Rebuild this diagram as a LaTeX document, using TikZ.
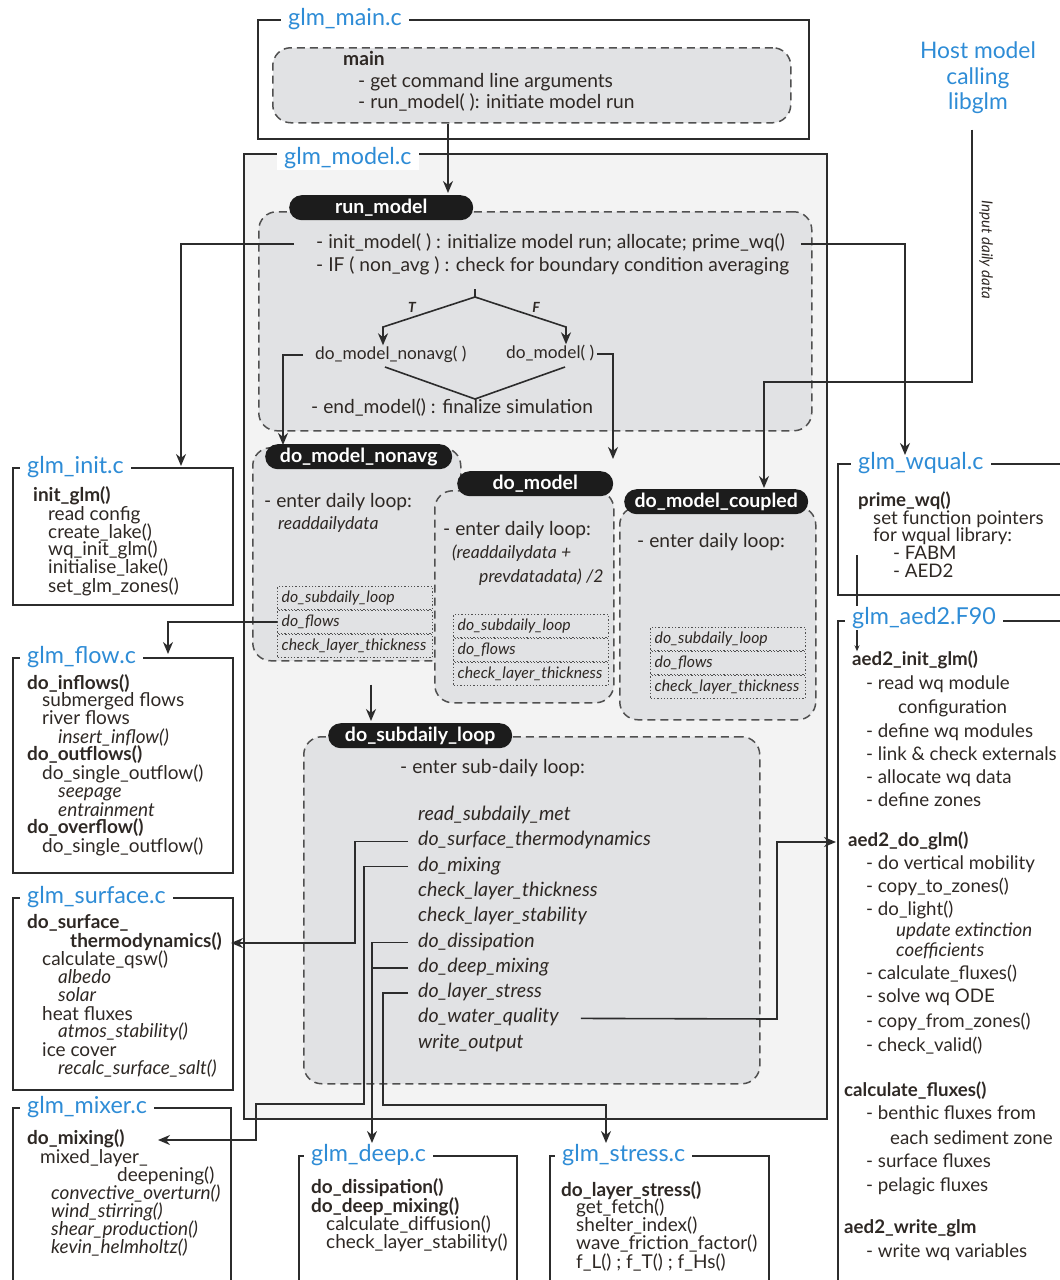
\documentclass[tikz,border=0pt]{standalone}
\usepackage{fontspec}
\setmainfont{Lato}
\usepackage{tikz}
\usetikzlibrary{arrows.meta}
\usetikzlibrary{positioning}

\definecolor{TitleBlue}{HTML}{2E8CD6}
\definecolor{AreaGray}{HTML}{E1E2E4}
\definecolor{ModelGray}{HTML}{F3F3F3}
\definecolor{LineDark}{HTML}{2C2C2C}
\definecolor{TextDark}{HTML}{2E2824}
\definecolor{DashGray}{HTML}{505050}
\definecolor{PillBlack}{HTML}{1C1C1C}

\newcommand{\BodyFont}{\fontsize{19}{18}\selectfont}
\newcommand{\LoopFont}{\fontsize{19.2}{22}\selectfont}
\newcommand{\ListFont}{\itshape\fontsize{19.6}{22}\selectfont}
\newcommand{\AedFont}{\fontsize{18.7}{22}\selectfont}
\newcommand{\DotFont}{\itshape\fontsize{15.8}{18}\selectfont}
\newcommand{\TitleFont}{\fontsize{23.3}{26}\selectfont}

\begin{document}
\begin{tikzpicture}[
x=1pt, y=-1pt,
FileBox/.style={draw=LineDark, line width=1.8pt},
FileTitle/.style={anchor=west, fill=white, text=TitleBlue, font=\TitleFont, inner xsep=7pt, inner ysep=1pt},
LoopArea/.style={anchor=north west, fill=AreaGray, draw=DashGray, line width=1.5pt, dash pattern=on 8pt off 5pt, rounded corners=18pt},
Pill/.style={anchor=north west, fill=PillBlack, text=white, font=\bfseries\fontsize{19.5}{22}\selectfont, rounded corners=12.5pt, minimum height=25pt, inner sep=0pt},
DotBox/.style={anchor=north west, draw=DashGray, line width=1.3pt, dotted, text width=147pt, inner xsep=4pt, minimum height=22.5pt, align=left, font=\DotFont, text=TextDark},
Ln/.style={anchor=west, inner sep=0pt, text height=14pt, text depth=5pt, text=TextDark, font=\BodyFont},
Line/.style={draw=LineDark, line width=1.6pt},
Link/.style={Line, -{Stealth[length=12pt, width=10pt]}},
]
\useasboundingbox (0,0) rectangle (1060,1280);
\clip (0,0) rectangle (1060,1280);

% glm_main.c
\node[FileBox, anchor=north west, minimum width=551pt, minimum height=119pt] (mainbox) at (257,19) {};
\node[FileTitle] (maintitle) at (281,19) {glm\_main.c};
\node[LoopArea, minimum width=518pt, minimum height=75pt] (mainarea) at (272,47) {};
\node[Ln, font=\bfseries\LoopFont] (mainname) at (343,61) {main};
\node[Ln, font=\LoopFont] (mainargs) at (358,83) {- get command line arguments};
\node[Ln, font=\LoopFont] (mainrun) at (358,104) {- run\_model( ): initiate model run};

% host model
\node[text=TitleBlue, font=\fontsize{22.8}{25.5}\selectfont, align=center] (host) at (978,78) {Host model\\calling\\libglm};
\node[rotate=-90, text=TextDark, font=\itshape\fontsize{15}{17}\selectfont] (inputlabel) at (986,250) {Input daily data};

% glm_model.c
\node[FileBox, fill=ModelGray, anchor=north west, minimum width=583pt, minimum height=965pt] (modelbox) at (243,153) {};
\node[FileTitle] (modeltitle) at (277,158) {glm\_model.c};

% run_model
\node[LoopArea, minimum width=553pt, minimum height=219pt] (runarea) at (258,211) {};
\node[Pill, minimum width=184pt] (runpill) at (289,195) {run\_model};
\node[Ln, font=\LoopFont] (initmodel) at (316,244) {- init\_model( ) : initialize model run; allocate; prime\_wq()};
\node[Ln, font=\LoopFont] (ifavg) at (316,267) {- IF ( non\_avg ) : check for boundary condition averaging};
\node[Ln, font=\fontsize{17.3}{20}\selectfont] (callnonavg) at (315,355) {do\_model\_nonavg( )};
\node[Ln, font=\fontsize{17.3}{20}\selectfont] (callmodel) at (506,354) {do\_model( )};
\node[Ln, font=\LoopFont] (endmodel) at (311,409) {- end\_model() : finalize simulation};

% T / F branches
\coordinate (Fork) at (475,297);
\draw[Line] (Fork) -- ++(0,-8);
\draw[Link] (Fork) -- ++(-92,30) coordinate (Tb) -- (Tb |- callnonavg.north);
\draw[Link] (Fork) -- ++(91,30) coordinate (Fb) -- (Fb |- callmodel.north);
\node[text=TextDark, font=\bfseries\itshape\fontsize{14}{16}\selectfont] (Tlabel) at (412,307) {T};
\node[text=TextDark, font=\bfseries\itshape\fontsize{14}{16}\selectfont] (Flabel) at (536,307) {F};
\draw[Line] (385,367) -- (475,399) -- (565,367);

% daily loops
\node[LoopArea, minimum width=208pt, minimum height=213pt] (nonavgarea) at (252,447) {};
\node[Pill, minimum width=187pt] (nonavgpill) at (265,444) {do\_model\_nonavg};
\node[Ln, font=\LoopFont] (nonavgloop) at (264,503) {- enter daily loop:};
\node[Ln, font=\itshape\fontsize{17.6}{20}\selectfont] (nonavgread) at (278,525) {readdailydata};

\node[LoopArea, minimum width=179pt, minimum height=212pt] (modelarea) at (434,490) {};
\node[Pill, minimum width=156pt] (modelpill) at (457,471) {do\_model};
\node[Ln, font=\LoopFont] (modelloop) at (443,531) {- enter daily loop:};
\node[Ln, font=\itshape\fontsize{17.6}{20}\selectfont] (modelread) at (452,554) {(readdailydata +};
\node[Ln, font=\itshape\fontsize{17.6}{20}\selectfont] (modelprev) at (479,578) {prevdatadata) /2};

\node[LoopArea, minimum width=196pt, minimum height=213pt] (coupledarea) at (619,506) {};
\node[Pill, minimum width=184pt] (coupledpill) at (624,489) {do\_model\_coupled};
\node[Ln, font=\LoopFont] (coupledloop) at (637,543) {- enter daily loop:};

\foreach \bx/\by/\nm in {277/586/na, 453/614/dm, 650/627/cp}
  \foreach \txt/\part [count=\j from 0] in {do\_subdaily\_loop/sub, do\_flows/flow, check\_layer\_thickness/chk}
    \node[DotBox] (\nm\part) at (\bx,\by+24*\j) {\txt};

% sub-daily loop
\node[LoopArea, minimum width=456pt, minimum height=347pt] (subarea) at (303,736) {};
\node[Pill, minimum width=184pt] (subpill) at (328,723) {do\_subdaily\_loop};
\node[Ln, font=\LoopFont] (subloop) at (400,769) {- enter sub-daily loop:};
\foreach \nm/\txt [count=\i from 0] in {met/read\_subdaily\_met, surf/do\_surface\_thermodynamics, mix/do\_mixing, thick/check\_layer\_thickness, stab/check\_layer\_stability, diss/do\_dissipation, deep/do\_deep\_mixing, stress/do\_layer\_stress, wq/do\_water\_quality, out/write\_output}
  \node[Ln, font=\ListFont] (\nm) at (418,816+25.3*\i) {\txt};

% glm_init.c
\node[FileBox, anchor=north west, minimum width=220pt, minimum height=137pt] (initbox) at (12,467) {};
\node[FileTitle] (inittitle) at (20,467) {glm\_init.c};
\foreach \x/\y/\t [count=\i] in {33/497/{\bfseries init\_glm()}, 48/516/read config, 48/534/create\_lake(), 48/551/wq\_init\_glm(), 48/569/initialise\_lake(), 48/588/set\_glm\_zones()}
  \node[Ln] (init\i) at (\x,\y) {\t};

% glm_flow.c
\node[FileBox, anchor=north west, minimum width=220pt, minimum height=215pt] (flowbox) at (12,657) {};
\node[FileTitle] (flowtitle) at (20,657) {glm\_flow.c};
\foreach \x/\y/\t [count=\i] in {27/685/{\bfseries do\_inflows()}, 42/702/submerged flows, 42/720/river flows, 58/739/{\itshape insert\_inflow()}, 27/756/{\bfseries do\_outflows()}, 42/775/do\_single\_outflow(), 58/793/{\itshape seepage}, 58/812/{\itshape entrainment}, 27/829/{\bfseries do\_overflow()}, 42/848/do\_single\_outflow()}
  \node[Ln] (flow\i) at (\x,\y) {\t};

% glm_surface.c
\node[FileBox, anchor=north west, minimum width=220pt, minimum height=192pt] (surfbox) at (12,897) {};
\node[FileTitle] (surftitle) at (20,897) {glm\_surface.c};
\foreach \x/\y/\t [count=\i] in {27/924/{\bfseries do\_surface\_}, 70/943/{\bfseries thermodynamics()}, 42/961/calculate\_qsw(), 58/979/{\itshape albedo}, 58/997/{\itshape solar}, 42/1016/heat fluxes, 58/1033/{\itshape atmos\_stability()}, 42/1052/ice cover, 58/1070/{\itshape recalc\_surface\_salt()}}
  \node[Ln] (surf\i) at (\x,\y) {\t};

% glm_mixer.c
\node[FileBox, anchor=north west, minimum width=218pt, minimum height=220pt] (mixbox) at (12,1107) {};
\node[FileTitle] (mixtitle) at (20,1107) {glm\_mixer.c};
\foreach \x/\y/\t [count=\i] in {27/1140/{\bfseries do\_mixing()}, 40/1159/mixed\_layer\_, 117/1177/deepening(), 51/1195/{\itshape convective\_overturn()}, 51/1213/{\itshape wind\_stirring()}, 51/1231/{\itshape shear\_production()}, 51/1249/{\itshape kevin\_helmholtz()}}
  \node[Ln] (mix\i) at (\x,\y) {\t};

% glm_deep.c
\node[FileBox, anchor=north west, minimum width=218pt, minimum height=200pt] (deepbox) at (298,1155) {};
\node[FileTitle] (deeptitle) at (304,1155) {glm\_deep.c};
\foreach \x/\y/\t [count=\i] in {311/1189/{\bfseries do\_dissipation()}, 311/1208/{\bfseries do\_deep\_mixing()}, 326/1226/calculate\_diffusion(), 326/1244/check\_layer\_stability()}
  \node[Ln] (deep\i) at (\x,\y) {\t};

% glm_stress.c
\node[FileBox, anchor=north west, minimum width=219pt, minimum height=200pt] (stressbox) at (549,1155) {};
\node[FileTitle] (stresstitle) at (555,1155) {glm\_stress.c};
\foreach \x/\y/\t [count=\i] in {561/1192/{\bfseries do\_layer\_stress()}, 576/1209/get\_fetch(), 576/1227/shelter\_index(), 576/1245/wave\_friction\_factor(), 576/1264/f\_L() ; f\_T() ; f\_Hs()}
  \node[Ln] (stress\i) at (\x,\y) {\t};

% glm_wqual.c
\node[FileBox, anchor=north west, minimum width=240pt, minimum height=131pt] (wqbox) at (837,463) {};
\node[FileTitle] (wqtitle) at (851,463) {glm\_wqual.c};
\foreach \x/\y/\t [count=\i] in {858/502/{\bfseries prime\_wq()}, 873/520/set function pointers, 873/537/for wqual library:, 893/555/- FABM, 893/573/- AED2}
  \node[Ln, font=\AedFont] (wq\i) at (\x,\y) {\t};

% glm_aed2.F90
\node[FileBox, anchor=north west, minimum width=240pt, minimum height=700pt] (aedbox) at (837,620) {};
\foreach \x/\y/\t [count=\i] in {852/661/{\bfseries aed2\_init\_glm()}, 866/685/- read wq module, 898/709/configuration, 866/733/- define wq modules, 866/756/- link \& check externals, 866/779/- allocate wq data, 866/802/- define zones, 848/842/{\bfseries aed2\_do\_glm()}, 866/865/- do vertical mobility, 866/888/- copy\_to\_zones(), 866/911/- do\_light(), 896/932/{\itshape update extinction}, 896/952/{\itshape coefficients}, 866/975/- calculate\_fluxes(), 866/998/- solve wq ODE, 866/1023/- copy\_from\_zones(), 866/1047/- check\_valid(), 844/1092/{\bfseries calculate\_fluxes()}, 866/1115/- benthic fluxes from, 890/1140/each sediment zone, 866/1163/- surface fluxes, 866/1187/- pelagic fluxes, 844/1229/{\bfseries aed2\_write\_glm}, 866/1253/- write wq variables}
  \node[Ln, font=\AedFont] (aed\i) at (\x,\y) {\t};
\coordinate (WqStart) at (857,555);
\draw[Line, line width=1.2pt, -{Stealth[length=6pt, width=5pt]}] (WqStart) -- (aed1.north -| WqStart);
\node[FileTitle] (aedtitle) at (845,618) {glm\_aed2.F90};

% connectors
\coordinate (RunIn) at (448,193);
\draw[Link] (mainarea.south -| RunIn) -- (RunIn);

\coordinate (InitIn) at (181,466);
\draw[Link] (initmodel.west) ++(-22,0) -| (InitIn);
\coordinate (WqualIn) at (905,455);
\draw[Link] (initmodel.east) ++(16,0) -| (WqualIn);
\coordinate (NonavgIn) at (283,445);
\draw[Link] (callnonavg.west) ++(-12,0) -| (NonavgIn);
\coordinate (ModelIn) at (613,459);
\draw[Link] (callmodel.east) ++(3,0) -| (ModelIn);

\coordinate (HostTurn) at (764,382);
\coordinate (CoupledIn) at (764,488);
\draw[Link] ([xshift=-6pt, yshift=-12pt]host.south) |- (HostTurn) -- (CoupledIn);

\coordinate (FlowIn) at (168,654);
\draw[Link] (naflow.west) -| (FlowIn);
\coordinate (SubIn) at (371,721);
\draw[Link] (nonavgarea.south -| SubIn) ++(0,23) -- (SubIn);

\coordinate (SurfTurn) at (355,943);
\coordinate (SurfIn) at (231,943);
\draw[Link] (surf.west) ++(-10,0) -| (SurfTurn) -- (SurfIn);
\coordinate (MixTurn) at (364,1104);
\coordinate (MixIn) at (158,1140);
\draw[Link] (mix.west) ++(-10,0) -| (MixTurn) -- ++(-108,0) |- (MixIn);
\coordinate (DeepIn) at (372,1143);
\draw[Link] (diss.west) ++(-10,0) -| (DeepIn);
\draw[Line] (deep.west) ++(-10,0) -- (deep.west -| DeepIn);
\coordinate (StressTurn) at (383,1105);
\coordinate (StressIn) at (606,1143);
\draw[Link] (stress.west) ++(-10,0) -| (StressTurn) -| (StressIn);
\coordinate (AedTurn) at (777,1019);
\coordinate (AedIn) at (836,842);
\draw[Link] (wq.east) ++(22,0) -- (AedTurn) |- (AedIn);
\end{tikzpicture}
\end{document}
